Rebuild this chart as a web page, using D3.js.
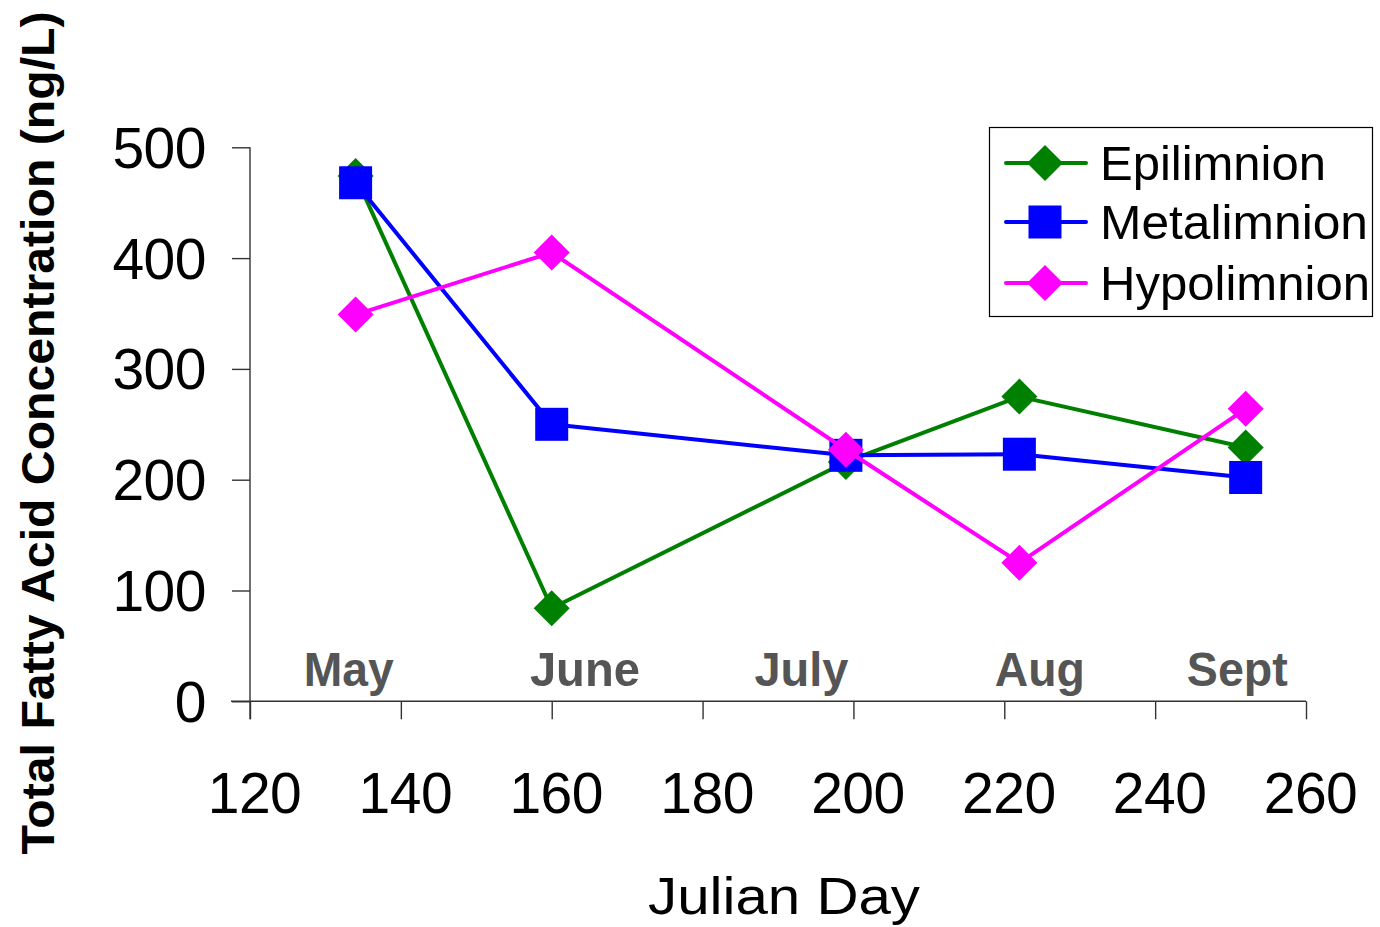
<!DOCTYPE html>
<html>
<head>
<meta charset="utf-8">
<script src="https://cdn.jsdelivr.net/npm/d3@7"></script>
<style>
  html, body { margin: 0; padding: 0; background: #fff; }
  svg { display: block; }
  text { font-family: "Liberation Sans", Arial, sans-serif; }
</style>
</head>
<body>
<svg id="chart" width="1380" height="927"></svg>
<script>
// Sampling days (Julian day) for each monthly survey
const days = [134, 160, 199, 222, 252];

// Total fatty acid concentration (ng/L) per layer
const epilimnion  = [474, 84, 216, 275, 229];
const metalimnion = [468, 250, 222, 223, 202];
const hypolimnion = [349, 405, 227, 125, 264];

const seriesNames = ["Epilimnion", "Metalimnion", "Hypolimnion"];
const seriesColors = ["#008000", "#0000FF", "#FF00FF"];
const seriesShapes = ["diamond", "square", "diamond"];

// Month labels placed along the bottom of the plot, by Julian day
const monthLabels = ["May", "June", "July", "Aug", "Sept"];
const monthDays = [133.1, 164.4, 193.1, 224.7, 250.9];

const xTicks = [120, 140, 160, 180, 200, 220, 240, 260];
const yTicks = [0, 100, 200, 300, 400, 500];

const series = [epilimnion, metalimnion, hypolimnion].map((vals, i) => ({
  name: seriesNames[i],
  color: seriesColors[i],
  shape: seriesShapes[i],
  points: vals.map((v, j) => ({ day: days[j], value: v }))
}));

const svg = d3.select("#chart");

const x = d3.scaleLinear().domain([120, 260]).range([250, 1306]);
const y = d3.scaleLinear().domain([0, 500]).range([701.3, 147.3]);

const axisColor = "#333";

// Y axis
const yAxis = svg.append("g")
  .attr("transform", `translate(${x(120)},0)`)
  .call(d3.axisLeft(y).tickValues(yTicks).tickSize(18).tickPadding(26).tickSizeOuter(0));
yAxis.select(".domain").remove();
yAxis.append("line")
  .attr("x1", 0).attr("x2", 0)
  .attr("y1", y(500)).attr("y2", y(0) + 18)
  .attr("stroke", axisColor).attr("stroke-width", 1.4);
yAxis.selectAll(".tick line").attr("stroke", axisColor).attr("stroke-width", 1.4);
yAxis.selectAll(".tick text")
  .attr("dy", "0.35em")
  .attr("fill", "#000")
  .style("font-size", "57px")
  .style("letter-spacing", "-0.5px")
  .style("font-family", "'Liberation Sans', Arial, sans-serif");

// X axis
const xAxis = svg.append("g")
  .attr("transform", `translate(0,${y(0)})`)
  .call(d3.axisBottom(x).tickValues(xTicks).tickSize(18).tickPadding(53).tickSizeOuter(0));
xAxis.select(".domain").remove();
xAxis.append("line")
  .attr("x1", x(120) - 19).attr("x2", x(260))
  .attr("y1", 0).attr("y2", 0)
  .attr("stroke", axisColor).attr("stroke-width", 1.4);
xAxis.selectAll(".tick line").attr("stroke", axisColor).attr("stroke-width", 1.4);
xAxis.selectAll(".tick text")
  .attr("dy", "0.71em")
  .attr("dx", "4px")
  .attr("fill", "#000")
  .style("font-size", "57px")
  .style("letter-spacing", "-0.5px")
  .style("font-family", "'Liberation Sans', Arial, sans-serif");

// Month labels
const monthWidths = [90, 110, 94, 90, 101];
svg.append("g").selectAll("text")
  .data(monthLabels)
  .join("text")
  .attr("x", (d, i) => x(monthDays[i]))
  .attr("y", 686)
  .attr("text-anchor", "middle")
  .attr("textLength", (d, i) => monthWidths[i])
  .attr("lengthAdjust", "spacingAndGlyphs")
  .attr("fill", "#555")
  .style("font-size", "49px")
  .style("font-weight", "bold")
  .text(d => d);

// Axis titles
svg.append("text")
  .attr("x", 784).attr("y", 914)
  .attr("text-anchor", "middle")
  .attr("textLength", 272)
  .attr("lengthAdjust", "spacingAndGlyphs")
  .style("font-size", "52px")
  .text("Julian Day");

svg.append("text")
  .attr("transform", "translate(54,433) rotate(-90)")
  .attr("text-anchor", "middle")
  .attr("textLength", 843)
  .attr("lengthAdjust", "spacingAndGlyphs")
  .style("font-size", "46px")
  .style("font-weight", "bold")
  .text("Total Fatty Acid Concentration (ng/L)");

// Marker drawing helper
function drawMarker(sel, shape, color) {
  if (shape === "diamond") {
    sel.append("path")
      .attr("d", "M0,-18L18,0L0,18L-18,0Z")
      .attr("fill", color);
  } else {
    sel.append("rect")
      .attr("x", -16.5).attr("y", -16.5)
      .attr("width", 33).attr("height", 33)
      .attr("fill", color);
  }
}

const line = d3.line().x(d => x(d.day)).y(d => y(d.value));

series.forEach(s => {
  const g = svg.append("g");
  g.append("path")
    .datum(s.points)
    .attr("d", line)
    .attr("fill", "none")
    .attr("stroke", s.color)
    .attr("stroke-width", 4)
    .attr("stroke-linejoin", "round");
  g.selectAll("g.marker")
    .data(s.points)
    .join("g")
    .attr("class", "marker")
    .attr("transform", d => `translate(${x(d.day)},${y(d.value)})`)
    .each(function () { drawMarker(d3.select(this), s.shape, s.color); });
});

// Legend
const legend = svg.append("g");
legend.append("rect")
  .attr("x", 989.5).attr("y", 127.5)
  .attr("width", 383).attr("height", 189)
  .attr("fill", "#fff")
  .attr("stroke", "#000")
  .attr("stroke-width", 1.2);

const legendRowY = [163, 222, 283];
const legendTextWidths = [226, 268, 270];
series.forEach((s, i) => {
  const row = legend.append("g").attr("transform", `translate(0,${legendRowY[i]})`);
  row.append("line")
    .attr("x1", 1006).attr("x2", 1086)
    .attr("y1", 0).attr("y2", 0)
    .attr("stroke", s.color)
    .attr("stroke-width", 4)
    .attr("stroke-linecap", "round");
  const m = row.append("g").attr("transform", "translate(1045,0)");
  drawMarker(m, s.shape, s.color);
  row.append("text")
    .attr("x", 1100).attr("y", 17)
    .attr("textLength", legendTextWidths[i])
    .attr("lengthAdjust", "spacingAndGlyphs")
    .style("font-size", "49px")
    .text(s.name);
});
</script>
</body>
</html>
